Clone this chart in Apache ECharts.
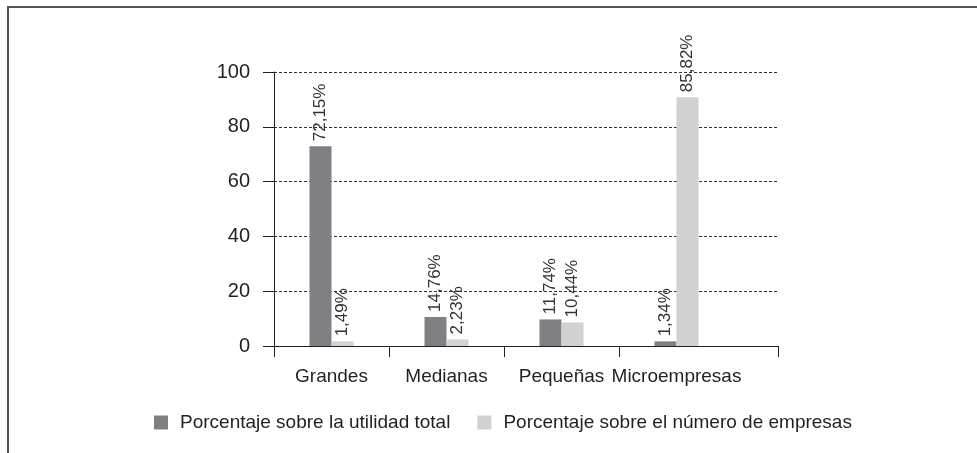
<!DOCTYPE html>
<html>
<head>
<meta charset="utf-8">
<title>Utilidad por tamaño de empresa</title>
<script src="https://cdn.jsdelivr.net/npm/echarts@6/dist/echarts.min.js"></script>
<style>
  html, body { margin: 0; padding: 0; background: #fff; }
  #chart { position: absolute; left: 0; top: 0; width: 977px; height: 453px; }
  .marco {
    position: absolute; left: 7px; top: 6px; width: 970px; height: 447px;
    border-top: 2px solid #555; border-left: 2px solid #555; box-sizing: border-box;
  }
</style>
</head>
<body>
<div class="marco"></div>
<div id="chart"></div>
<script>
  // datos
  var categorias = ['Grandes', 'Medianas', 'Pequeñas', 'Microempresas'];
  var utilidad = [72.9, 10.6, 9.7, 1.7];        // altura de barra
  var empresas = [1.7, 2.4, 8.6, 90.8];
  var utilidadEtiquetas = ['72,15%', '14,76%', '11,74%', '1,34%'];
  var empresasEtiquetas = ['1,49%', '2,23%', '10,44%', '85,82%'];
  var yMin = 0, yMax = 100, yIntervalo = 20;

  var fuente = 'Liberation Sans';
  var negro = '#231f20';

  function etiqueta(textos) {
    return {
      show: true,
      position: 'top',
      rotate: 90,
      align: 'left',
      verticalAlign: 'middle',
      distance: 5,
      fontFamily: fuente,
      fontSize: 17,
      color: '#333',
      formatter: function (p) { return textos[p.dataIndex]; }
    };
  }

  var chart = echarts.init(document.getElementById('chart'));
  chart.setOption({
    animation: false,
    textStyle: { fontFamily: fuente },
    legend: {
      left: 154,
      top: 413,
      padding: 0,
      itemWidth: 14,
      itemHeight: 14,
      itemGap: 27,
      icon: 'rect',
      selectedMode: false,
      textStyle: { fontSize: 19, color: negro, padding: [0, 0, 0, 7] },
      data: ['Porcentaje sobre la utilidad total', 'Porcentaje sobre el número de empresas']
    },
    grid: [
      // ejes y lineas guia
      { left: 274, right: 199, top: 72, bottom: 107 },
      // barras
      { left: 274, right: 243, top: 72, bottom: 107 },
      // marcas entre categorias (sin la ultima)
      { left: 274, right: 358, top: 72, bottom: 107 }
    ],
    xAxis: [
      {
        gridIndex: 0,
        type: 'category',
        data: [''],
        axisLine: { show: true, lineStyle: { color: negro, width: 1 } },
        axisTick: { show: true, length: 11, lineStyle: { color: negro, width: 1 } },
        axisLabel: { show: false }
      },
      {
        gridIndex: 1,
        type: 'category',
        data: categorias,
        axisLine: { show: true, lineStyle: { color: negro, width: 1 } },
        axisTick: { show: false },
        axisLabel: { interval: 0, fontSize: 19, color: negro, margin: 21 }
      },
      {
        gridIndex: 2,
        type: 'category',
        data: categorias.slice(0, 3),
        axisLine: { show: false },
        axisTick: { show: true, interval: 0, length: 11, lineStyle: { color: negro, width: 1 } },
        axisLabel: { show: false }
      }
    ],
    yAxis: [
      {
        gridIndex: 0,
        type: 'value',
        min: yMin, max: yMax, interval: yIntervalo,
        axisLine: { show: true, lineStyle: { color: negro, width: 1 } },
        axisTick: { show: true, length: 11, lineStyle: { color: negro, width: 1 } },
        axisLabel: { fontSize: 20, color: negro, margin: 24 },
        splitLine: { lineStyle: { color: '#333', width: 1, type: [3, 2] } }
      },
      {
        gridIndex: 1,
        type: 'value',
        min: yMin, max: yMax, interval: yIntervalo,
        show: false,
        splitLine: { show: false }
      },
      {
        gridIndex: 2,
        type: 'value',
        min: yMin, max: yMax, interval: yIntervalo,
        show: false,
        splitLine: { show: false }
      }
    ],
    series: [
      {
        name: 'Porcentaje sobre la utilidad total',
        type: 'bar',
        xAxisIndex: 1,
        yAxisIndex: 1,
        barWidth: 22,
        barGap: '0%',
        itemStyle: { color: '#808084' },
        label: etiqueta(utilidadEtiquetas),
        data: utilidad
      },
      {
        name: 'Porcentaje sobre el número de empresas',
        type: 'bar',
        xAxisIndex: 1,
        yAxisIndex: 1,
        barWidth: 22,
        barGap: '0%',
        itemStyle: { color: '#d1d1d3' },
        label: etiqueta(empresasEtiquetas),
        data: empresas
      }
    ]
  });
</script>
</body>
</html>
